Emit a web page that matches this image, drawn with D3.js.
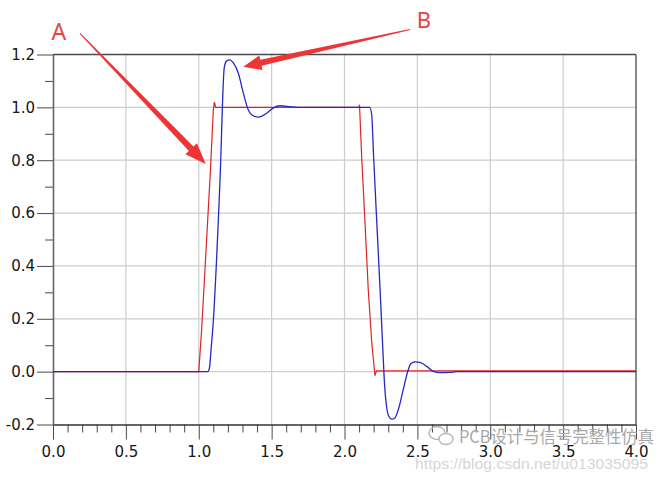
<!DOCTYPE html>
<html>
<head>
    <meta charset="utf-8">
    <title>Step response</title>
    <style>
        html, body { margin: 0; padding: 0; background: #fff; }
        svg { display: block; }
        .tick text { font-family: "DejaVu Sans", Verdana, sans-serif; font-size: 15px; fill: #161616; }
        .tick line { stroke: #4a4a4a; }
    </style>
    <script src="https://d3js.org/d3.v7.min.js"></script>
</head>
<body>
<script>
    // time (ns) and voltage
    var redT = [0, 1.0, 1.02, 1.05, 1.08, 1.10, 1.107, 1.116, 2.10, 2.103, 2.118, 2.141, 2.163, 2.187, 2.209, 2.219, 2.75, 4.0];
    var redV = [0, 0, 0.16, 0.46, 0.76, 0.99, 1.02, 1.0, 1.0, 1.01, 0.81, 0.56, 0.31, 0.11, -0.015, 0.003, 0.003, 0.003];

    var blueT = [0, 1.06, 1.072, 1.087, 1.096, 1.146, 1.175, 1.19, 1.214, 1.235, 1.271, 1.306, 1.34, 1.363, 1.409,
                 1.466, 1.51, 1.557, 1.626, 1.68, 2.174, 2.187, 2.20, 2.222, 2.245, 2.265, 2.275, 2.288, 2.303, 2.324,
                 2.346, 2.369, 2.403, 2.438, 2.455, 2.484, 2.518, 2.564, 2.609, 2.655, 2.724, 2.77, 4.0];
    var blueV = [0, 0, 0.01, 0.10, 0.16, 0.726, 1.15, 1.175, 1.18, 1.17, 1.13, 1.054, 0.99, 0.972, 0.963,
                 0.978, 0.997, 1.006, 1.003, 1.0, 1.0, 0.97, 0.81, 0.56, 0.30, 0.06, -0.05, -0.13, -0.168, -0.18,
                 -0.175, -0.144, -0.068, 0.008, 0.03, 0.037, 0.035, 0.02, 0.001, -0.004, -0.003, 0, 0];

    var xMajor = [0, 0.5, 1.0, 1.5, 2.0, 2.5, 3.0, 3.5, 4.0];
    var yMajor = [-0.2, 0, 0.2, 0.4, 0.6, 0.8, 1.0, 1.2];

    var W = 658, H = 481;
    var pLeft = 53, pRight = 636, pTop = 54.5, pBottom = 424.5;

    var x = d3.scaleLinear().domain([0, 4]).range([pLeft, pRight]);
    var y = d3.scaleLinear().domain([-0.2, 1.2]).range([pBottom, pTop]);

    var svg = d3.select("body").append("svg")
        .attr("width", W)
        .attr("height", H);

    svg.append("rect").attr("width", W).attr("height", H).attr("fill", "#fff");

    // grid
    svg.append("g").selectAll("line").data(xMajor.slice(1, -1)).enter().append("line")
        .attr("x1", function(d) { return x(d); }).attr("x2", function(d) { return x(d); })
        .attr("y1", pTop).attr("y2", pBottom)
        .attr("stroke", "#cdcdcd").attr("stroke-width", 1.2);
    svg.append("g").selectAll("line").data(yMajor.slice(1, -1)).enter().append("line")
        .attr("x1", pLeft).attr("x2", pRight)
        .attr("y1", function(d) { return y(d); }).attr("y2", function(d) { return y(d); })
        .attr("stroke", "#cdcdcd").attr("stroke-width", 1.2);

    // minor ticks
    var xMinor = d3.range(1, 40).map(function(i) { return i / 10; }).filter(function(d) { return Math.round(d * 10) % 5 != 0; });
    var yMinor = [-0.1, 0.1, 0.3, 0.5, 0.7, 0.9, 1.1];

    svg.append("g").attr("transform", "translate(0," + pBottom + ")")
        .call(d3.axisBottom(x).tickValues(xMinor).tickSize(8).tickFormat(""))
        .call(function(g) { g.select(".domain").remove(); });
    svg.append("g").attr("transform", "translate(" + pLeft + ",0)")
        .call(d3.axisLeft(y).tickValues(yMinor).tickSize(8).tickFormat(""))
        .call(function(g) { g.select(".domain").remove(); });

    // major axes
    var xAxis = svg.append("g").attr("transform", "translate(0," + pBottom + ")")
        .call(d3.axisBottom(x).tickValues(xMajor).tickSize(15).tickSizeOuter(0).tickPadding(7).tickFormat(d3.format(".1f")));
    var yAxis = svg.append("g").attr("transform", "translate(" + pLeft + ",0)")
        .call(d3.axisLeft(y).tickValues(yMajor).tickSize(16).tickSizeOuter(0).tickPadding(2).tickFormat(d3.format(".1f")));
    xAxis.select(".domain").attr("stroke", "#333").attr("stroke-width", 1.3);
    yAxis.select(".domain").attr("stroke", "#666").attr("stroke-width", 1.6);
    yAxis.selectAll(".tick text").text(function(d) { return d3.format(".1f")(d).replace("−", "-"); });

    // frame top / right
    svg.append("line").attr("x1", pLeft).attr("x2", pRight).attr("y1", pTop).attr("y2", pTop)
        .attr("stroke", "#4a4a4a").attr("stroke-width", 1.3);
    svg.append("line").attr("x1", pRight).attr("x2", pRight).attr("y1", pTop).attr("y2", pBottom)
        .attr("stroke", "#4a4a4a").attr("stroke-width", 1.3);

    // waveforms
    var line = d3.line()
        .x(function(d) { return x(d[0]); })
        .y(function(d) { return y(d[1]); });

    svg.append("path")
        .attr("d", line(d3.zip(redT, redV)))
        .attr("fill", "none").attr("stroke", "#dc2424").attr("stroke-width", 1.2);

    svg.append("path")
        .attr("d", line.curve(d3.curveMonotoneX)(d3.zip(blueT, blueV)))
        .attr("fill", "none").attr("stroke", "#2828c4").attr("stroke-width", 1.3);

    // annotation arrows (data coords)
    var arrows = [
        { from: [0.185, 1.28], to: [1.048, 0.786], hl: 21, hw: 8, w0: 0.5, w1: 3.2 },
        { from: [2.45, 1.295], to: [1.306, 1.154], hl: 18, hw: 7.5, w0: 0.5, w1: 3 }
    ];

    arrows.forEach(function(a) {
        var sx = x(a.from[0]), sy = y(a.from[1]), tx = x(a.to[0]), ty = y(a.to[1]);
        var len = Math.hypot(tx - sx, ty - sy);
        var ux = (tx - sx) / len, uy = (ty - sy) / len;
        var nx = -uy, ny = ux;
        var bx = tx - ux * a.hl, by = ty - uy * a.hl;
        var pts = [
            [sx + nx * a.w0, sy + ny * a.w0],
            [bx + nx * a.w1, by + ny * a.w1],
            [bx + nx * a.hw, by + ny * a.hw],
            [tx, ty],
            [bx - nx * a.hw, by - ny * a.hw],
            [bx - nx * a.w1, by - ny * a.w1],
            [sx - nx * a.w0, sy - ny * a.w0]
        ];
        svg.append("polygon")
            .attr("points", pts.map(function(p) { return p.join(","); }).join(" "))
            .attr("fill", "#ee3434");
    });

    svg.append("text").attr("x", x(0.041)).attr("y", y(1.255))
        .attr("text-anchor", "middle")
        .style("font-family", "'Noto Sans', sans-serif").style("font-size", "23px")
        .attr("fill", "#e84444").text("A");
    svg.append("text").attr("x", x(2.544)).attr("y", y(1.302))
        .attr("text-anchor", "middle")
        .style("font-family", "'Noto Sans', sans-serif").style("font-size", "22px")
        .attr("fill", "#e84444").text("B");

    // watermark
    var wm = svg.append("g").attr("fill", "none").attr("stroke", "#b4b4b4").attr("stroke-width", 1.3);
    wm.append("ellipse").attr("cx", 437).attr("cy", 433).attr("rx", 8).attr("ry", 6.5);
    wm.append("ellipse").attr("cx", 446).attr("cy", 439).attr("rx", 7).attr("ry", 5.5).attr("fill", "#fff");

    svg.append("text").attr("x", 459).attr("y", 443)
        .style("font-family", "'Noto Sans CJK SC', sans-serif").style("font-size", "17px")
        .attr("textLength", 195).attr("lengthAdjust", "spacingAndGlyphs")
        .attr("fill", "#a8a8a8").text("PCB设计与信号完整性仿真");

    svg.append("text").attr("x", 415).attr("y", 469)
        .style("font-family", "'Liberation Sans', Arial, sans-serif").style("font-size", "15px")
        .attr("textLength", 233).attr("lengthAdjust", "spacingAndGlyphs")
        .attr("fill", "#d6d6d6").text("https://blog.csdn.net/u013035095");
</script>
</body>
</html>
